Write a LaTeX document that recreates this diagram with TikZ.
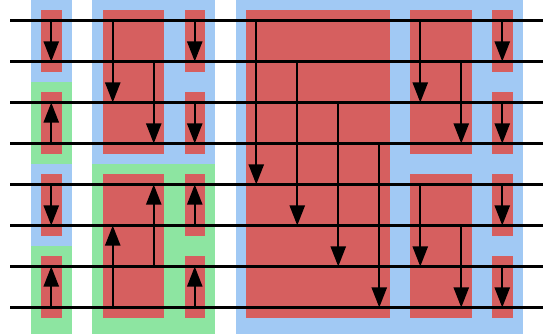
\documentclass[tikz,border=0pt]{standalone}
\usetikzlibrary{arrows.meta}
\definecolor{blueblk}{HTML}{A1C9F4}
\definecolor{greenblk}{HTML}{8DE5A1}
\definecolor{redcmp}{HTML}{D65F5F}
\begin{document}
\begin{tikzpicture}[line join=round,>={Triangle[length=14pt,width=10.5pt]},y=-1cm,
	wire/.style={line width=1.4pt},cmp/.style={->,line width=1.5pt}]
			\useasboundingbox (0,0) rectangle (13.39,8.146);
			%%Khối
			\foreach \a/\b/\p/\q/\c in {1.25/1.25/0/1/blueblk,1.25/1.25/2/3/greenblk,1.25/1.25/4/5/blueblk,1.25/1.25/6/7/greenblk,
				2.75/4.75/0/3/blueblk,2.75/4.75/4/7/greenblk,6.25/12.25/0/7/blueblk}{
					\fill[\c] (\a-0.5,\p) rectangle (\b+0.5,{\q+1+0.15*(\q==7)});
				}
			\foreach \a/\b/\p/\q in {1.25/1.25/0/1,1.25/1.25/2/3,1.25/1.25/4/5,1.25/1.25/6/7,
				2.75/3.75/0/3,4.75/4.75/0/1,4.75/4.75/2/3,2.75/3.75/4/7,4.75/4.75/4/5,4.75/4.75/6/7,
				6.25/9.25/0/7,10.25/11.25/0/3,10.25/11.25/4/7,12.25/12.25/0/1,12.25/12.25/2/3,12.25/12.25/4/5,12.25/12.25/6/7}{
					\fill[redcmp] (\a-0.25,\p+0.25) rectangle (\b+0.25,\q+0.75);
				}
			%%Dây
			\foreach \i in {0,...,7}{
					\path (0.25,\i+0.5)coordinate(L\i) (13.25,\i+0.5)coordinate(R\i);
					\draw[wire] (L\i)--(R\i);
				}
			%%So sánh
			\foreach \x/\s/\t in {1.25/0/1,1.25/3/2,1.25/4/5,1.25/7/6,
				2.75/0/2,3.75/1/3,4.75/0/1,4.75/2/3,2.75/7/5,3.75/6/4,4.75/5/4,4.75/7/6,
				6.25/0/4,7.25/1/5,8.25/2/6,9.25/3/7,10.25/0/2,11.25/1/3,10.25/4/6,11.25/5/7,
				12.25/0/1,12.25/2/3,12.25/4/5,12.25/6/7}{
					\draw[cmp] (\x,\s+0.5)--(\x,\t+0.5);
				}
		\end{tikzpicture}
\end{document}
